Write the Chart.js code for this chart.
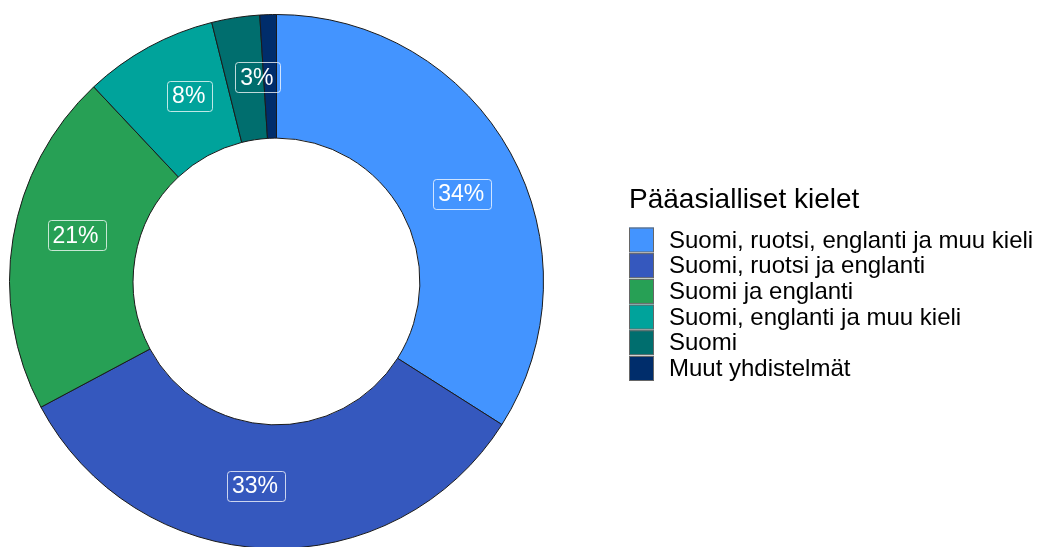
<!DOCTYPE html>
<html lang="fi">
<head>
    <meta charset="UTF-8">
    <script src="https://cdn.jsdelivr.net/npm/chart.js"></script>
    <title>Pääasialliset kielet</title>
    <style>
        body { margin:0; overflow:hidden; background:#fff; }
    </style>
    <script>
        // kategoriat ja osuudet (%)
        const categories = [
            'Suomi, ruotsi, englanti ja muu kieli',
            'Suomi, ruotsi ja englanti',
            'Suomi ja englanti',
            'Suomi, englanti ja muu kieli',
            'Suomi',
            'Muut yhdistelmät'
        ];
        const shares = [34.0, 33.2, 20.8, 8.1, 2.9, 1.0];
        const shareLabels = ['34%', '33%', '21%', '8%', '3%', ''];
        const colors = ['#4394FF', '#3558BE', '#27A055', '#00A39B', '#006E6E', '#002D6B'];
        const legendTitle = 'Pääasialliset kielet';

        const FONT = '"Liberation Sans", Arial, sans-serif';

        // prosenttilaatikot renkaan päälle
        const labelPlugin = {
            id: 'labels',
            afterDatasetsDraw(chart) {
                const c = chart.ctx;
                const meta = chart.getDatasetMeta(0);
                const total = shares.reduce((a, b) => a + b, 0);
                // ggplot-tyylinen siirto: viimeinen osuus kasaantuu alkuun
                const shift = shares[shares.length - 1] / total * Math.PI * 2;
                c.save();
                c.font = '23px ' + FONT;
                c.textAlign = 'center';
                c.textBaseline = 'middle';
                meta.data.forEach((arc, i) => {
                    const txt = shareLabels[i];
                    if (!txt) return;
                    const p = arc.getProps(['x', 'y', 'startAngle', 'endAngle', 'innerRadius', 'outerRadius'], true);
                    const a = (p.startAngle + p.endAngle) / 2 + shift;
                    const r = (p.innerRadius + p.outerRadius) / 2;
                    const x = p.x + Math.cos(a) * r;
                    const y = p.y + Math.sin(a) * r;
                    const w = c.measureText(txt).width + 12;
                    const h = 30;
                    c.strokeStyle = 'rgba(255,255,255,0.75)';
                    c.lineWidth = 1;
                    c.beginPath();
                    c.roundRect(Math.round(x - w / 2) + 0.5, Math.round(y - h / 2) + 0.5, Math.round(w), h, 3);
                    c.stroke();
                    c.fillStyle = '#fff';
                    c.fillText(txt, x - 1, y + 1);
                });
                c.restore();
            }
        };

        // oma selite oikealle
        const legendPlugin = {
            id: 'sideLegend',
            afterDraw(chart) {
                const c = chart.ctx;
                c.save();
                c.fillStyle = '#000';
                c.textAlign = 'left';
                c.textBaseline = 'alphabetic';
                c.font = '28px ' + FONT;
                c.fillText(legendTitle, 629, 207.5);
                c.font = '24px ' + FONT;
                c.textBaseline = 'middle';
                categories.forEach((cat, i) => {
                    const y = 227.5 + i * 25.7;
                    c.fillStyle = colors[i];
                    c.fillRect(629, y, 25, 24.5);
                    c.strokeStyle = '#666';
                    c.lineWidth = 1;
                    c.strokeRect(629.5, y + 0.5, 24, 24);
                    c.fillStyle = '#000';
                    c.fillText(cat, 669, y + 13.5);
                });
                c.restore();
            }
        };

        window.onload = function () {
            const ctx = document.getElementById('myChart');
            new Chart(ctx, {
                type: 'doughnut',
                data: {
                    labels: categories,
                    datasets: [{
                        data: shares,
                        backgroundColor: colors,
                        borderColor: '#1a1a1a',
                        borderWidth: 1,
                        borderAlign: 'center'
                    }]
                },
                options: {
                    responsive: false,
                    devicePixelRatio: 1,
                    animation: false,
                    cutout: '53.7%',
                    layout: { padding: { left: 9, top: 14, right: 501, bottom: 11 } },
                    plugins: {
                        legend: { display: false },
                        tooltip: { enabled: false }
                    }
                },
                plugins: [labelPlugin, legendPlugin]
            });
        };
    </script>
</head>
<body>
    <canvas id="myChart" width="1045" height="560"></canvas>
</body>
</html>
